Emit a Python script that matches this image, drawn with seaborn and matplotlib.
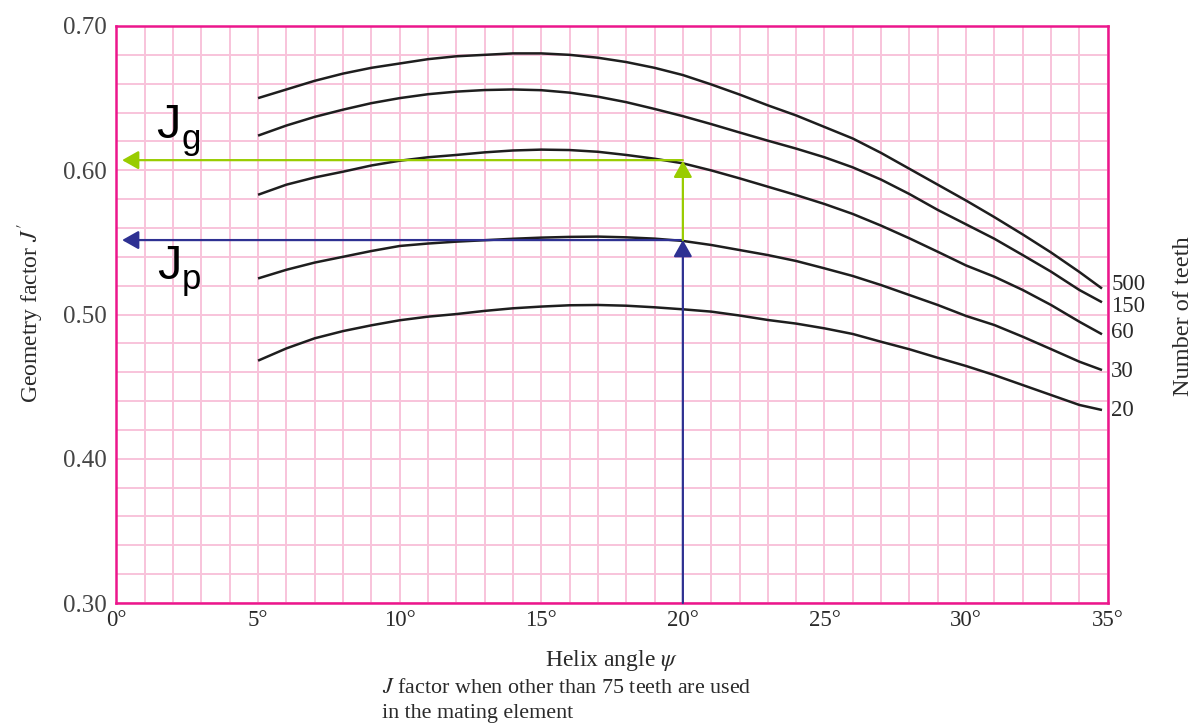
import numpy as np
import pandas as pd
import matplotlib
matplotlib.use("Agg")
import matplotlib.pyplot as plt
import seaborn as sns

# ---- data ----
angles = [5, 6, 7, 8, 9, 10, 11, 12, 13, 14, 15, 16, 17, 18, 19, 20,
          21, 22, 23, 24, 25, 26, 27, 28, 29, 30, 31, 32, 33, 34, 34.8]
j_500 = [0.650, 0.656, 0.662, 0.667, 0.671, 0.674, 0.677, 0.679, 0.680, 0.681, 0.681,
         0.680, 0.678, 0.675, 0.671, 0.666, 0.6595, 0.6525, 0.645, 0.638, 0.630,
         0.622, 0.612, 0.601, 0.590, 0.579, 0.5675, 0.5555, 0.543, 0.5295, 0.518]
j_150 = [0.624, 0.631, 0.637, 0.642, 0.6465, 0.650, 0.6527, 0.6545, 0.6556, 0.656, 0.6555,
         0.6538, 0.651, 0.6472, 0.6425, 0.6375, 0.632, 0.6262, 0.6205, 0.615, 0.609,
         0.602, 0.5935, 0.5835, 0.5725, 0.5625, 0.5525, 0.5412, 0.5297, 0.517, 0.5085]
j_60 = [0.583, 0.590, 0.595, 0.599, 0.6033, 0.6066, 0.609, 0.6106, 0.6124, 0.6137, 0.6143,
        0.614, 0.6128, 0.6106, 0.608, 0.6048, 0.5999, 0.5944, 0.5886, 0.5828, 0.5766,
        0.5697, 0.5616, 0.5528, 0.5435, 0.534, 0.5262, 0.517, 0.5066, 0.495, 0.4863]
j_30 = [0.525, 0.531, 0.536, 0.540, 0.544, 0.5475, 0.5492, 0.5505, 0.5515, 0.5525, 0.5533,
        0.5538, 0.554, 0.5535, 0.5526, 0.551, 0.5482, 0.5447, 0.5412, 0.5371, 0.532,
        0.5267, 0.5204, 0.5135, 0.5066, 0.499, 0.4927, 0.4846, 0.476, 0.4673, 0.4615]
j_20 = [0.468, 0.4765, 0.4835, 0.4885, 0.4925, 0.496, 0.4985, 0.5003, 0.5025, 0.5043, 0.5055,
        0.5064, 0.5066, 0.5061, 0.505, 0.5036, 0.502, 0.4993, 0.4962, 0.4937, 0.4904,
        0.4865, 0.4811, 0.4759, 0.470, 0.4643, 0.458, 0.4511, 0.4442, 0.4373, 0.4338]
teeth = ["500", "150", "60", "30", "20"]
x_ticks = [0, 5, 10, 15, 20, 25, 30, 35]
y_ticks = [0.30, 0.40, 0.50, 0.60, 0.70]
jp_value = 0.5516
jg_value = 0.607
design_angle = 20

series = [j_500, j_150, j_60, j_30, j_20]
df = pd.concat([pd.DataFrame({"angle": angles, "J": s, "teeth": t})
                for s, t in zip(series, teeth)], ignore_index=True)

# ---- style ----
sns.set_style("white")
plt.rcParams["font.family"] = ["Liberation Serif", "DejaVu Serif"]
plt.rcParams["mathtext.fontset"] = "stix"

pink = "#EC168C"
grid_pink = "#F8C3DA"
blue = "#2E3192"
green = "#99CC00"
txt = "#2a2a2a"

fig = plt.figure(figsize=(11.98, 7.26), dpi=100)
ax = fig.add_axes([0.0972, 0.1694, 0.8274, 0.7948])

sns.lineplot(data=df, x="angle", y="J", hue="teeth", hue_order=teeth,
             palette=["#1e1e1e"] * 5, estimator=None, legend=False,
             linewidth=1.8, ax=ax, zorder=3, solid_joinstyle="round",
             solid_capstyle="butt")

ax.set_xlim(0, 35)
ax.set_ylim(0.30, 0.70)
ax.set_xticks(x_ticks)
ax.set_xticklabels([f"{v}°" for v in x_ticks])
ax.set_yticks(y_ticks)
ax.set_yticklabels([f"{v:.2f}" for v in y_ticks])
ax.set_xticks(np.arange(0, 36, 1), minor=True)
ax.set_yticks(np.arange(0.30, 0.7001, 0.02), minor=True)
ax.grid(which="both", color=grid_pink, linewidth=1.4)
ax.set_axisbelow(True)
ax.tick_params(which="both", length=0)
ax.tick_params(axis="x", pad=5, labelsize=16.5, labelcolor=txt)
ax.tick_params(axis="y", pad=7, labelsize=18, labelcolor="#444444")
for sp in ax.spines.values():
    sp.set_color(pink)
    sp.set_linewidth(1.8)
ax.set_xlabel("")
ax.set_ylabel("")

# ---- arrows ----
def arrow(x0, y0, x1, y1, color):
    ax.annotate("", xy=(x1, y1), xytext=(x0, y0),
                arrowprops=dict(arrowstyle="-|>,head_length=0.8,head_width=0.45",
                                color=color, lw=1.6, mutation_scale=12.5,
                                shrinkA=0, shrinkB=0), zorder=4)

arrow(design_angle, 0.30, design_angle, jp_value, blue)
arrow(design_angle, jp_value, 0.2, jp_value, blue)
arrow(design_angle, jp_value, design_angle, jg_value - 0.0004, green)
arrow(design_angle, jg_value, 0.2, jg_value, green)

# J_g / J_p labels
sans = ["Liberation Sans", "DejaVu Sans"]
ax.text(1.42, 0.6225, "J", family=sans, fontsize=35, va="baseline", ha="left", color="black")
ax.text(2.30, 0.6150, "g", family=sans, fontsize=25, va="baseline", ha="left", color="black")
ax.text(1.45, 0.5245, "J", family=sans, fontsize=35, va="baseline", ha="left", color="black")
ax.text(2.32, 0.5175, "p", family=sans, fontsize=25, va="baseline", ha="left", color="black")

# curve labels on the right
label_y = [0.5205, 0.5054, 0.4872, 0.4604, 0.4338]
for t, yv in zip(teeth, label_y):
    ax.text(35.12, yv, t, fontsize=16.5, va="center", ha="left", color=txt, clip_on=False)

ax.text(1.076, 0.497, "Number of teeth", transform=ax.transAxes, rotation=90,
        fontsize=17.5, ha="center", va="center", color=txt)
ax.text(-0.0862, 0.503, "Geometry factor $J'$", transform=ax.transAxes, rotation=90,
        fontsize=17, ha="center", va="center", color=txt)
ax.text(0.5, -0.099, r"Helix angle $\psi$", transform=ax.transAxes,
        fontsize=17, ha="center", va="center", color=txt)

fig.text(0.3186, 0.0455, "$J$ factor when other than 75 teeth are used",
         fontsize=15.8, ha="left", va="baseline", color=txt)
fig.text(0.3186, 0.011, "in the mating element",
         fontsize=15.8, ha="left", va="baseline", color=txt)

fig.savefig("out.png", dpi=100)
